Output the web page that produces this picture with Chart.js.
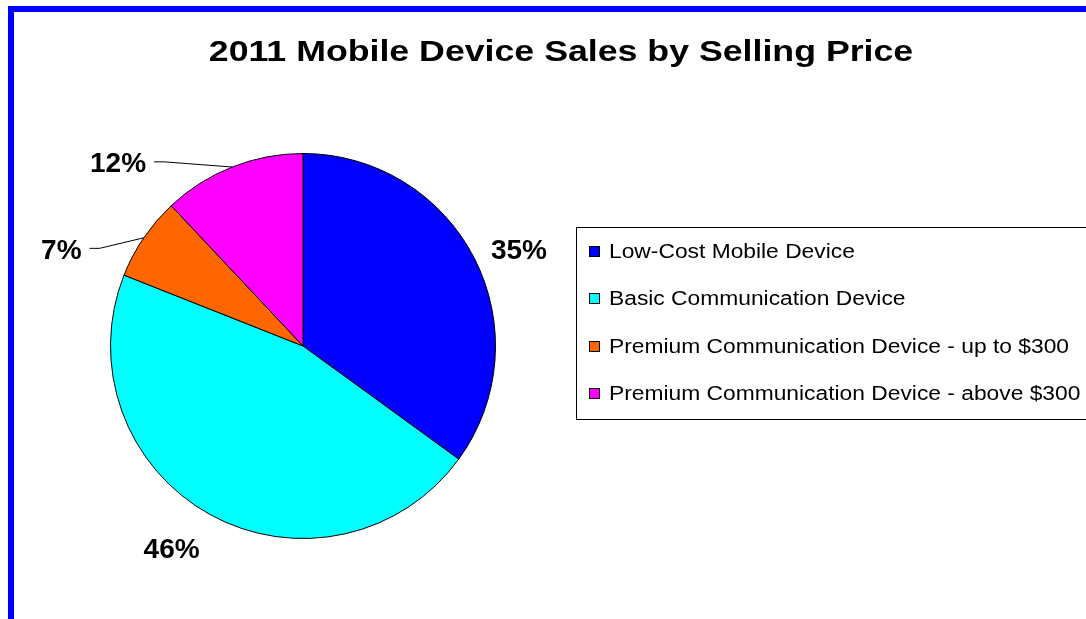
<!DOCTYPE html>
<html>
<head>
<meta charset="utf-8">
<title>2011 Mobile Device Sales by Selling Price</title>
<script src="https://cdn.jsdelivr.net/npm/chart.js@4.4.0/dist/chart.umd.min.js"></script>
<style>
  body { margin: 0; background: #fff; overflow: hidden; }
  canvas { display: block; }
</style>
</head>
<body>
<canvas id="myChart" width="1086" height="619"></canvas>
<script>
    // data

const chartTitle = '2011 Mobile Device Sales by Selling Price';
const deviceTypes = [
    'Low-Cost Mobile Device',
    'Basic Communication Device',
    'Premium Communication Device - up to $300',
    'Premium Communication Device - above $300'
];
const salesShare = [35, 46, 7, 12];
const sliceColors = ['#0000ff', '#00ffff', '#ff6600', '#ff00ff'];

    // percent labels: turn (degrees) away from the slice middle, distance in radii, leader line or not

const labelTurn = [2.8, 4.3, -12.3, -23.6];
const labelDistance = [1.23, 1.25, 1.353, 1.354];
const labelLeader = [false, false, true, true];

const textFont = '"Liberation Sans", Arial, sans-serif';

    // frame, title, legend box and percent labels

const decorations = {
    id: 'decorations',
    beforeDraw(chart) {
        const ctx = chart.ctx;
        ctx.save();
        ctx.fillStyle = '#ffffff';
        ctx.fillRect(0, 0, chart.width, chart.height);
        ctx.fillStyle = '#0000ff';
        ctx.fillRect(8, 6, chart.width, 6);
        ctx.fillRect(8, 6, 6, chart.height);
        ctx.restore();
    },
    afterDraw(chart) {
        const ctx = chart.ctx;
        ctx.save();
        ctx.fillStyle = '#000';

        // title (the text is a bit wide, so stretch it)
        ctx.font = 'bold 30px ' + textFont;
        ctx.textAlign = 'center';
        ctx.textBaseline = 'alphabetic';
        ctx.save();
        ctx.translate(561, 61);
        ctx.scale(1.19, 1);
        ctx.fillText(chartTitle, 0, 0);
        ctx.restore();

        // legend
        ctx.strokeStyle = '#000';
        ctx.lineWidth = 1;
        ctx.strokeRect(576.5, 227.5, 700, 192);
        ctx.font = '20px ' + textFont;
        ctx.textAlign = 'left';
        deviceTypes.forEach((name, i) => {
            const base = 257.7 + i * 47.5;
            ctx.fillStyle = sliceColors[i];
            ctx.fillRect(589, Math.round(base) - 12, 11, 11);
            ctx.strokeRect(589.5, Math.round(base) - 11.5, 10, 10);
            ctx.fillStyle = '#000';
            ctx.save();
            ctx.translate(609, base);
            ctx.scale(1.14, 1);
            ctx.fillText(name, 0, 0);
            ctx.restore();
        });

        // percent labels around the pie
        const meta = chart.getDatasetMeta(0);
        ctx.font = 'bold 28px ' + textFont;
        ctx.textAlign = 'center';
        meta.data.forEach((arc, i) => {
            const mid = (arc.startAngle + arc.endAngle) / 2;
            const a = mid + labelTurn[i] * Math.PI / 180;
            const r = arc.outerRadius * labelDistance[i];
            const lx = arc.x + Math.cos(a) * r;
            const ly = arc.y + Math.sin(a) * r;
            const text = salesShare[i] + '%';
            ctx.fillStyle = '#000';
            ctx.fillText(text, lx, ly + 10);
            if (labelLeader[i]) {
                const w = ctx.measureText(text).width;
                const sx = lx + w / 2 + 8;
                const sy = ly - 0.5;
                ctx.beginPath();
                ctx.moveTo(sx, sy);
                ctx.lineTo(sx + 10, sy);
                ctx.lineTo(arc.x + Math.cos(mid) * arc.outerRadius, arc.y + Math.sin(mid) * arc.outerRadius);
                ctx.strokeStyle = '#000';
                ctx.lineWidth = 1;
                ctx.stroke();
            }
        });
        ctx.restore();
    }
};

    // pie chart

let ctxPie = document.getElementById('myChart').getContext('2d');

const data = {
    labels: deviceTypes,
    datasets: [{
        data: salesShare,
        backgroundColor: sliceColors,
        borderColor: '#000000',
        borderWidth: 1
    }]
};

const config = {
    type: 'pie',
    data,
    options: {
        responsive: false,
        animation: false,
        events: [],
        layout: {
            padding: { left: 110, right: 590, top: 153, bottom: 80 }
        },
        plugins: {
            legend: { display: false },
            title: { display: false },
            tooltip: { enabled: false }
        }
    },
    plugins: [decorations]
};

let myChart = new Chart(ctxPie, config);
</script>
</body>
</html>
